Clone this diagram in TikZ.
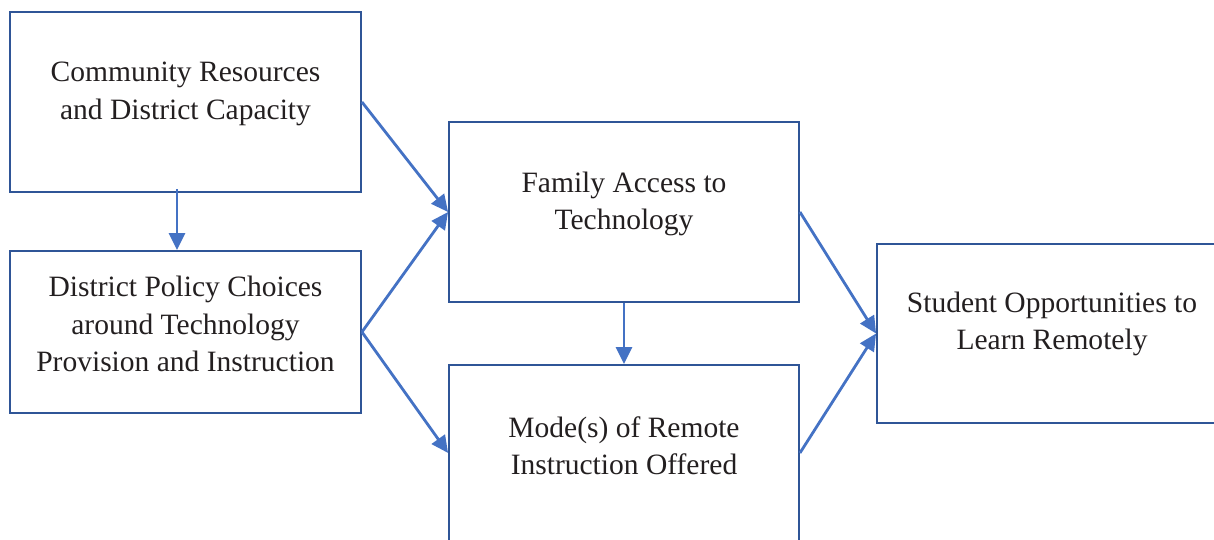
\documentclass[tikz,border=0pt]{standalone}
\usepackage{fontspec}
\setmainfont{Liberation Serif}
\usetikzlibrary{arrows.meta}
\definecolor{boxblue}{RGB}{47,85,151}
\definecolor{arrowblue}{RGB}{68,114,196}
\definecolor{textgray}{RGB}{35,31,32}
\begin{document}
\begin{tikzpicture}[x = 0.02cm, y = 0.02cm,
        box/.style = {draw = boxblue, line width = 1.1pt, minimum width = 7.02cm, minimum height = 3.6cm, inner sep = 0pt},
        lbl/.style = {align = center, text = textgray, font = \fontsize{16.8}{21.3}\selectfont},
        link/.style = {draw = arrowblue, line width = 1.6pt, -{Triangle[length = 0.34cm, width = 0.32cm]}}]
                \useasboundingbox (0,0) rectangle (1214,540);
                \clip (0,0) rectangle (1214,540);
                \node[box] (resources) at (185.5,438) {};
                \node[box, minimum height = 3.24cm] (policy) at (185.5,208) {};
                \node[box, minimum width = 7cm] (access) at (624,328) {};
                \node[box, minimum width = 7cm] (modes) at (624,85) {};
                \node[box, minimum width = 7cm, minimum height = 3.58cm] (learn) at (1052,206.5) {};
                \node[lbl] (resourcestext) at (185.5,446) {Community Resources\\and District Capacity};
                \node[lbl] (policytext) at (185.5,216) {District Policy Choices\\around Technology\\Provision and Instruction};
                \node[lbl] (accesstext) at (624,336) {Family Access to\\Technology};
                \node[lbl] (modestext) at (624,94) {Mode(s) of Remote\\Instruction Offered};
                \node[lbl] (learntext) at (1052,216) {Student Opportunities to\\Learn Remotely};
                \begin{scope}[every path/.append style = link]
                    \draw ([xshift = -0.17cm, yshift = 0.08cm]resources.south) -- ([xshift = -0.17cm]policy.north);
                    \draw (resources.east) -- (access.west);
                    \draw (policy.east) -- (access.west);
                    \draw (policy.east) -- ([yshift = 0.04cm]modes.west);
                    \draw (access.south) -- (modes.north);
                    \draw (access.east) -- (learn.west);
                    \draw ([yshift = 0.04cm]modes.east) -- (learn.west);
                \end{scope}
            \end{tikzpicture}
\end{document}
